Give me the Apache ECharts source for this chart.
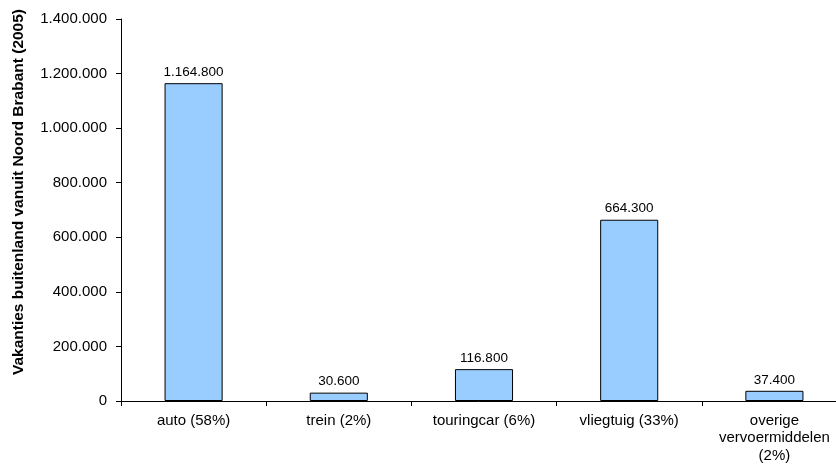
<!DOCTYPE html>
<html>
<head>
<meta charset="utf-8">
<script src="https://cdn.jsdelivr.net/npm/echarts@6/dist/echarts.min.js"></script>
<style>
  html, body { margin: 0; padding: 0; background: #fff; }
  #main { width: 836px; height: 466px; }
</style>
</head>
<body>
<div id="main"></div>
<script>
var categories = ['auto (58%)', 'trein (2%)', 'touringcar (6%)', 'vliegtuig (33%)', 'overige\nvervoermiddelen\n(2%)'];
var values = [1164800, 30600, 116800, 664300, 37400];
var yTicks = [0, 200000, 400000, 600000, 800000, 1000000, 1200000, 1400000];

function fmt(v) {
    return String(v).replace(/\B(?=(\d{3})+(?!\d))/g, '.');
}

// plot area runs a little past the right edge, as in the original
var myChart = echarts.init(document.getElementById('main'));
var option = {
    animation: false,
    textStyle: { fontFamily: 'Liberation Sans, Arial, sans-serif' },
    grid: { left: 121, top: 19, right: -11, bottom: 65, outerBoundsMode: 'none' },
    xAxis: {
        type: 'category',
        data: categories,
        boundaryGap: true,
        axisLine: { lineStyle: { color: '#000', width: 1 } },
        axisTick: { show: true, length: 5, lineStyle: { color: '#000' } },
        axisLabel: { color: '#000', fontSize: 15, margin: 11, lineHeight: 17.5, interval: 0 }
    },
    yAxis: {
        type: 'value',
        min: yTicks[0],
        max: yTicks[yTicks.length - 1],
        interval: 200000,
        name: 'Vakanties buitenland vanuit Noord Brabant (2005)',
        nameLocation: 'middle',
        nameGap: 94,
        nameTextStyle: { color: '#000', fontSize: 15.5, fontWeight: 'bold', padding: [0, 0, 0, 36] },
        axisLine: { show: true, lineStyle: { color: '#000', width: 1 } },
        axisTick: { show: true, length: 5, lineStyle: { color: '#000' } },
        splitLine: { show: false },
        axisLabel: { color: '#000', fontSize: 15, margin: 14, formatter: fmt }
    },
    series: [{
        type: 'bar',
        data: values,
        barWidth: '40%',
        itemStyle: { color: '#99CCFF', borderColor: '#000', borderWidth: 1 },
        label: {
            show: true,
            position: 'top',
            distance: 4,
            color: '#000',
            fontSize: 13.5,
            formatter: function (p) { return fmt(p.value); }
        }
    }]
};
myChart.setOption(option);
</script>
</body>
</html>
